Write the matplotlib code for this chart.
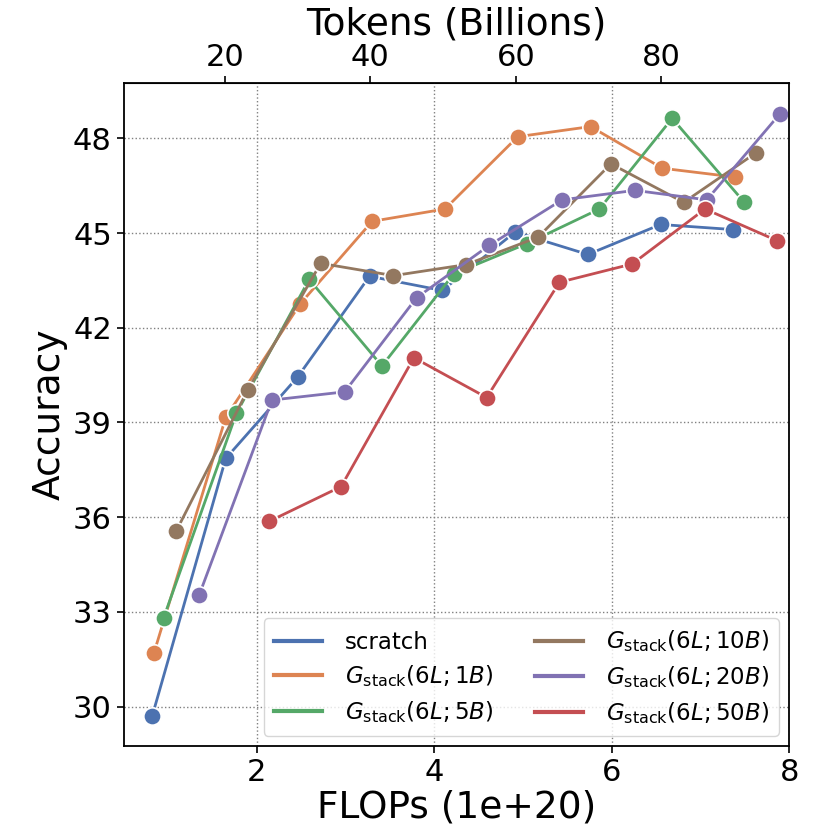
import matplotlib.pyplot as plt
from matplotlib.lines import Line2D

# FLOPs (1e+20) and accuracy
flops_scratch = [0.82, 1.65, 2.46, 3.27, 4.09, 4.91, 5.73, 6.55, 7.36]
acc_scratch = [29.69, 37.86, 40.44, 43.63, 43.18, 45.03, 44.32, 45.27, 45.11]

flops_1b = [0.84, 1.65, 2.49, 3.30, 4.12, 4.94, 5.76, 6.57, 7.39]
acc_1b = [31.69, 39.16, 42.76, 45.37, 45.76, 48.05, 48.37, 47.05, 46.77]

flops_5b = [0.95, 1.77, 2.59, 3.41, 4.22, 5.04, 5.86, 6.68, 7.49]
acc_5b = [32.81, 39.29, 43.53, 40.79, 43.71, 44.66, 45.76, 48.63, 45.98]

flops_10b = [1.09, 1.90, 2.72, 3.54, 4.36, 5.17, 5.99, 6.81, 7.62]
acc_10b = [35.55, 40.04, 44.04, 43.65, 44.00, 44.87, 47.19, 45.97, 47.53]

flops_20b = [1.35, 2.17, 2.99, 3.80, 4.62, 5.44, 6.26, 7.07, 7.89]
acc_20b = [33.53, 39.71, 39.97, 42.95, 44.61, 46.05, 46.35, 46.05, 48.76]

flops_50b = [2.14, 2.95, 3.77, 4.59, 5.41, 6.23, 7.05, 7.86]
acc_50b = [35.87, 36.97, 41.05, 39.79, 43.44, 44.02, 45.76, 44.76]

labels = [
    "scratch",
    r"$G_{\mathrm{stack}}(6L;1B)$",
    r"$G_{\mathrm{stack}}(6L;5B)$",
    r"$G_{\mathrm{stack}}(6L;10B)$",
    r"$G_{\mathrm{stack}}(6L;20B)$",
    r"$G_{\mathrm{stack}}(6L;50B)$",
]
colors = ["#4C72B0", "#DD8452", "#55A868", "#937860", "#8172B3", "#C44E52"]

# billions of tokens per 1e20 FLOPs
tokens_per_flop = 12.2

series = [
    (flops_scratch, acc_scratch),
    (flops_1b, acc_1b),
    (flops_5b, acc_5b),
    (flops_10b, acc_10b),
    (flops_20b, acc_20b),
    (flops_50b, acc_50b),
]

fig = plt.figure(figsize=(8.3, 8.3), dpi=100)
ax = fig.add_axes([0.149, 0.101, 0.802, 0.799])

for (x, y), c in zip(series, colors):
    ax.plot(x, y, "-o", color=c, lw=2.0, ms=12.5,
            markeredgecolor="white", markeredgewidth=1.2)

ax.set_xlim(0.5, 8)
ax.set_ylim(28.75, 49.75)
ax.set_xticks([2, 4, 6, 8])
ax.set_yticks([30, 33, 36, 39, 42, 45, 48])
ax.grid(True, linestyle=":", color="gray", linewidth=1.0)
ax.tick_params(labelsize=22, width=1.2, length=5)
for s in ax.spines.values():
    s.set_linewidth(1.3)
ax.set_xlabel("FLOPs (1e+20)", fontsize=27, labelpad=2)
ax.set_ylabel("Accuracy", fontsize=27, labelpad=4)

top = ax.secondary_xaxis(
    "top", functions=(lambda f: f * tokens_per_flop, lambda t: t / tokens_per_flop)
)
top.set_xticks([20, 40, 60, 80])
top.tick_params(labelsize=22, width=1.2, length=5, pad=3)
top.set_xlabel("Tokens (Billions)", fontsize=27, labelpad=6)

handles = [Line2D([], [], color=c, lw=3) for c in colors]
ax.legend(handles, labels, loc="lower right", ncol=2, fontsize=16.5,
          handlelength=2.1, columnspacing=1.8, borderpad=0.45,
          labelspacing=0.42, handletextpad=1.0, borderaxespad=0.45)

fig.savefig("out.png", dpi=100)
